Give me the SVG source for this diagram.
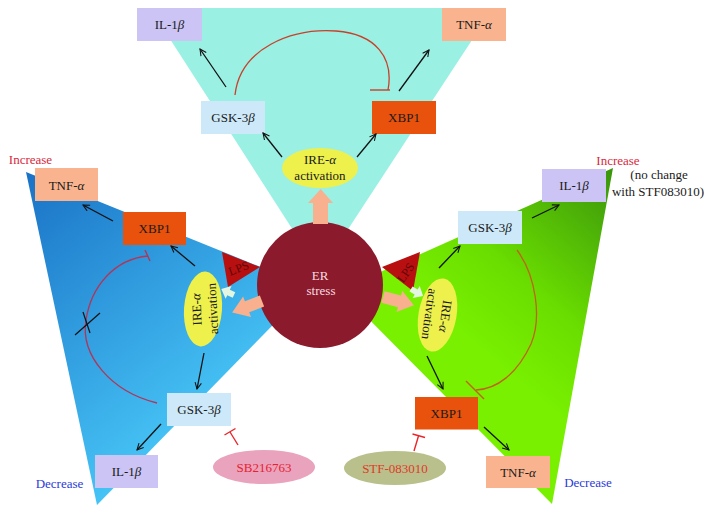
<svg xmlns="http://www.w3.org/2000/svg" width="712" height="514" viewBox="0 0 712 514" font-family="'Liberation Serif', 'Times New Roman', serif">
<style>
text{font-family:"Liberation Serif","Times New Roman",serif;font-size:13px;fill:#1a1a1a;text-anchor:middle}
.il{fill:#cbc4f4}.tnf{fill:#f9b48f}.gsk{fill:#cde9f9}.xbp{fill:#e8520c}.ire{fill:#eef04c}
.lps{fill:#b80f10}.lpst{fill:#5a0808;font-size:12px}
.c{stroke:#111;stroke-width:1.3;fill:none;marker-end:url(#ah)}
.inh{stroke:#e8262a;stroke-width:1.4;fill:none}
.peach{fill:#f8b08e}.pale{fill:#e4f6e2}
.red{fill:#d8283c}.blue{fill:#2a3ad8}
</style>
<defs>
<marker id="ah" viewBox="0 0 10 10" refX="9" refY="5" markerWidth="8" markerHeight="8" orient="auto" markerUnits="userSpaceOnUse">
<path d="M1,1 L9,5 L1,9" fill="none" stroke="#111" stroke-width="1.3"/>
</marker>
<linearGradient id="gb" gradientUnits="userSpaceOnUse" x1="30" y1="170" x2="230" y2="420">
<stop offset="0" stop-color="#1a72c6"/><stop offset="1" stop-color="#48c8f8"/>
</linearGradient>
<linearGradient id="gg" gradientUnits="userSpaceOnUse" x1="470" y1="340" x2="615" y2="170">
<stop offset="0" stop-color="#78f000"/><stop offset="0.35" stop-color="#6ade00"/><stop offset="1" stop-color="#3a940c"/>
</linearGradient>
</defs>

<g id="regions">
<polygon points="150,8 493,8 320,272" fill="#9bf0e4"/>
<polygon points="26,172 97,505 310,287" fill="url(#gb)"/>
<polygon points="613,168 552,504 340,290" fill="url(#gg)"/>
</g>

<g id="lps-left"><polygon class="lps" points="222,252 260,267 228,287"/><text class="lpst" transform="translate(240,272) rotate(-21)">LPS</text></g>
<g id="lps-right"><polygon class="lps" points="382,267 420,252 413,291"/><text class="lpst" transform="translate(409,275) rotate(-55)">LPS</text></g>

<g id="er-stress">
<circle cx="320" cy="285" r="63" fill="#8b1a2c"/>
<text x="320" y="279.5" style="fill:#f5dde0">ER</text>
<text x="321" y="295" style="fill:#f5dde0">stress</text>
</g>

<g id="signal-arrows">
<polygon class="peach" points="313,224 313,203 308,203 320.7,189 333,203 328,203 328,224"/>
<polygon class="peach" transform="translate(262,301) rotate(159)" points="0,-6 16,-6 16,-11 32,0 16,11 16,6 0,6"/>
<polygon class="peach" transform="translate(383,297) rotate(15)" points="0,-6 17,-6 17,-11 32,0 17,11 17,6 0,6"/>
<polygon class="pale" transform="translate(234,295) rotate(205)" points="0,-3 6,-3 6,-7 14,0 6,7 6,3 0,3"/>
<polygon class="pale" transform="translate(411,289) rotate(30)" points="0,-3 6,-3 6,-7 14,0 6,7 6,3 0,3"/>
</g>

<g id="top-il1b"><rect class="il" x="137" y="8" width="65" height="33"/><text x="169.5" y="29">IL-1<tspan font-style="italic">β</tspan></text></g>
<g id="top-tnfa"><rect class="tnf" x="442" y="8" width="64" height="33"/><text x="474" y="29">TNF-<tspan font-style="italic">α</tspan></text></g>
<g id="top-gsk3b"><rect class="gsk" x="201" y="101" width="64" height="33"/><text x="233" y="122">GSK-3<tspan font-style="italic">β</tspan></text></g>
<g id="top-xbp1"><rect class="xbp" x="372" y="101" width="64" height="33"/><text x="404" y="122">XBP1</text></g>
<g id="top-ire"><ellipse class="ire" cx="320" cy="168" rx="38" ry="20"/><text x="320" y="164">IRE-<tspan font-style="italic">α</tspan></text><text x="320" y="180">activation</text></g>

<g id="left-tnfa"><rect class="tnf" x="35" y="168" width="63" height="33"/><text x="66.5" y="189.5">TNF-<tspan font-style="italic">α</tspan></text></g>
<g id="left-xbp1"><rect class="xbp" x="123" y="212" width="63" height="33"/><text x="154.5" y="233">XBP1</text></g>
<g id="left-ire"><ellipse class="ire" cx="0" cy="0" rx="37.5" ry="19" transform="translate(203,309) rotate(-86)"/>
<g transform="translate(204,309) rotate(-93)"><text x="0" y="-3">IRE-<tspan font-style="italic">α</tspan></text><text x="0" y="13">activation</text></g></g>
<g id="left-gsk3b"><rect class="gsk" x="167" y="393" width="64" height="33"/><text x="199" y="414">GSK-3<tspan font-style="italic">β</tspan></text></g>
<g id="left-il1b"><rect class="il" x="95" y="455" width="63" height="33"/><text x="126.5" y="476">IL-1<tspan font-style="italic">β</tspan></text></g>
<g id="sb216763"><ellipse cx="264" cy="467" rx="51" ry="17" fill="#e9a3bd"/><text x="264" y="471.5" style="fill:#e82030">SB216763</text></g>

<g id="right-il1b"><rect class="il" x="542" y="169" width="64" height="33"/><text x="574" y="190">IL-1<tspan font-style="italic">β</tspan></text></g>
<g id="right-gsk3b"><rect class="gsk" x="458" y="211" width="64" height="33"/><text x="490" y="232">GSK-3<tspan font-style="italic">β</tspan></text></g>
<g id="right-ire"><ellipse class="ire" cx="0" cy="0" rx="37" ry="19" transform="translate(437.5,315) rotate(100)"/>
<g transform="translate(437,315) rotate(98)"><text x="0" y="-4">IRE-<tspan font-style="italic">α</tspan></text><text x="0" y="12">activation</text></g></g>
<g id="right-xbp1"><rect class="xbp" x="415" y="397" width="63" height="32.5"/><text x="446.5" y="418">XBP1</text></g>
<g id="right-tnfa"><rect class="tnf" x="486" y="456" width="64" height="32"/><text x="518" y="476.5">TNF-<tspan font-style="italic">α</tspan></text></g>
<g id="stf083010"><ellipse cx="395" cy="468" rx="51" ry="17" fill="#b9c08b"/><text x="395" y="472.5" style="fill:#e03a2a">STF-083010</text></g>

<g id="labels">
<text class="red" x="30.5" y="164">Increase</text>
<text class="blue" x="59.5" y="487.5">Decrease</text>
<text class="red" x="618" y="164.5">Increase</text>
<text x="659" y="179">(no change</text>
<text x="658" y="196">with STF083010)</text>
<text class="blue" x="588" y="487">Decrease</text>
</g>

<g id="connectors">
<line class="c" x1="226" y1="87" x2="200" y2="49"/>
<line class="c" x1="399" y1="91" x2="429" y2="50"/>
<line class="c" x1="282" y1="157" x2="263" y2="133"/>
<line class="c" x1="357" y1="157" x2="376" y2="134"/>
<path d="M235,95 C240,48 292,28 336,31 C376,34 394,58 388,90" fill="none" stroke="#c8402a" stroke-width="1.3"/>
<line x1="370" y1="90" x2="390" y2="90" stroke="#c8402a" stroke-width="1.4"/>

<line class="c" x1="113" y1="221" x2="83" y2="205"/>
<line class="c" x1="195" y1="266" x2="171" y2="246"/>
<line class="c" x1="204" y1="353" x2="197" y2="389"/>
<line class="c" x1="161" y1="424" x2="137" y2="450"/>
<path d="M157,403 C112,392 80,356 86,320 C91,287 114,259 148,256" fill="none" stroke="#b0365a" stroke-width="1.3"/>
<line x1="145" y1="250" x2="150" y2="261" stroke="#b0365a" stroke-width="1.4"/>
<line x1="75" y1="335" x2="100" y2="313" stroke="#111" stroke-width="1.2"/>
<line x1="83" y1="312" x2="90" y2="333" stroke="#111" stroke-width="1.2"/>
<line class="inh" x1="238" y1="445" x2="230" y2="432"/>
<line class="inh" x1="224.5" y1="435" x2="235.5" y2="428.5"/>

<line class="c" x1="439" y1="268" x2="460" y2="246"/>
<line class="c" x1="532" y1="218" x2="559" y2="205"/>
<line class="c" x1="427" y1="356" x2="443" y2="389"/>
<line class="c" x1="484" y1="427" x2="509" y2="450"/>
<path d="M517,250 C536,276 542,318 531,344 C517,374 497,389 476,390" fill="none" stroke="#c2621a" stroke-width="1.3"/>
<line x1="466" y1="381" x2="484" y2="399" stroke="#c2621a" stroke-width="1.4"/>
<line class="inh" x1="414" y1="451" x2="418.5" y2="436"/>
<line class="inh" x1="412.5" y1="434" x2="425" y2="437.5"/>
</g>
</svg>
